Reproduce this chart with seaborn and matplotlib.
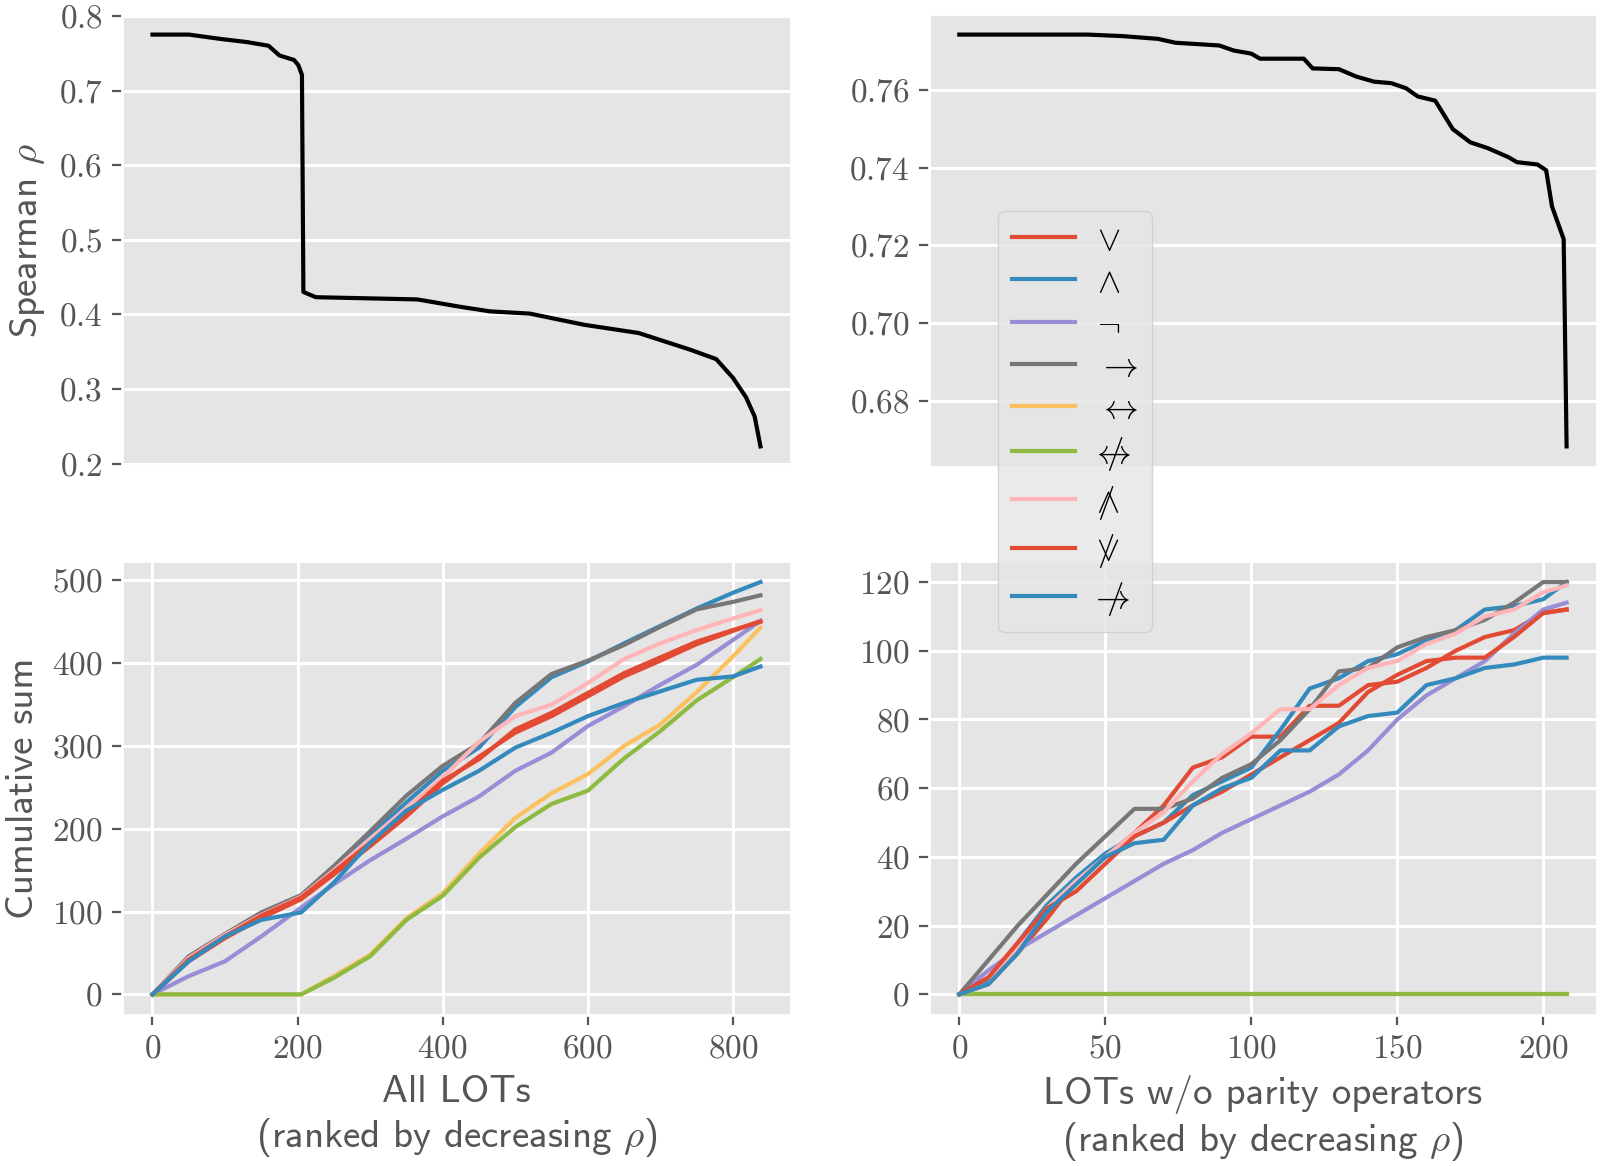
import numpy as np
import pandas as pd
import seaborn as sns
import matplotlib.pyplot as plt
from matplotlib.ticker import MultipleLocator

# spearman rho of the LOTs, ranked
rank_all = [0, 50, 95, 130, 160, 175, 195, 201, 206, 208, 225, 365, 425, 465, 520,
            595, 670, 705, 740, 777, 800, 818, 830, 838]
rho_all = [0.775, 0.775, 0.769, 0.765, 0.760, 0.747, 0.741, 0.734, 0.721, 0.430, 0.423,
           0.420, 0.410, 0.404, 0.401, 0.386, 0.375, 0.364, 0.353, 0.340, 0.315, 0.289,
           0.263, 0.223]

rank_np = [0, 44, 56, 68, 74, 89, 94, 100, 103, 118, 121, 130, 136, 142, 148, 153, 157,
           163, 169, 175, 181, 188, 191, 198, 201, 203, 207, 208]
rho_np = [0.7742, 0.7742, 0.7738, 0.7731, 0.7721, 0.7714, 0.7701, 0.7693, 0.768, 0.768,
          0.7655, 0.7653, 0.7634, 0.7621, 0.7617, 0.7604, 0.7583, 0.7572, 0.7499, 0.7465,
          0.7450, 0.7427, 0.7414, 0.7408, 0.7393, 0.7300, 0.7216, 0.6683]

# operators (legend labels) and colours
ops = [r'$\vee$', r'$\wedge$', r'$\neg$', r'$\rightarrow$', r'$\leftrightarrow$',
       r'$/\hspace{-1.15}\leftrightarrow$', r'$/\hspace{-0.8}\wedge$',
       r'$/\hspace{-0.8}\vee$', r'$/\hspace{-1.15}\rightarrow$']
colors = ['#E24A33', '#348ABD', '#988ED5', '#777777', '#FBC15E', '#8EBA42', '#FFB5B8',
          '#E24A33', '#348ABD']

# cumulative sums, all LOTs
cum_rank_all = [0, 50, 100, 150, 205, 250, 300, 350, 400, 450, 500, 550, 600, 650, 700,
                750, 800, 838]
or_all = [0, 40, 68, 92, 115, 145, 179, 215, 255, 287, 316, 336, 360, 384, 403, 423, 439, 451]
and_all = [0, 42, 72, 98, 118, 152, 192, 232, 270, 298, 347, 383, 402, 424, 445, 466, 485, 498]
not_all = [0, 22, 40, 70, 105, 133, 162, 188, 215, 239, 270, 292, 324, 348, 374, 398, 428, 451]
impl_all = [0, 46, 73, 99, 120, 155, 197, 240, 276, 303, 352, 387, 403, 422, 444, 465, 474, 482]
iff_all = [0, 0, 0, 0, 0, 22, 48, 92, 122, 170, 213, 243, 266, 300, 326, 365, 408, 443]
xor_all = [0, 0, 0, 0, 0, 20, 46, 90, 119, 165, 202, 230, 246, 285, 318, 355, 383, 405]
nand_all = [0, 44, 72, 96, 118, 150, 188, 225, 262, 305, 336, 350, 376, 405, 424, 440, 454, 464]
nor_all = [0, 42, 70, 95, 117, 148, 183, 218, 258, 284, 320, 340, 364, 388, 407, 426, 440, 450]
nimpl_all = [0, 40, 70, 90, 99, 135, 183, 222, 247, 270, 298, 316, 336, 352, 366, 380, 384, 396]

# cumulative sums, LOTs without parity operators
cum_rank_np = [0, 10, 20, 30, 40, 50, 60, 70, 80, 90, 100, 110, 120, 130, 140, 150, 160,
               170, 180, 190, 200, 208]
or_np = [0, 3, 12, 22, 33, 40, 47, 55, 66, 69, 75, 75, 84, 84, 90, 91, 95, 100, 104, 106, 111, 112]
and_np = [0, 4, 15, 26, 34, 41, 46, 50, 58, 62, 66, 77, 89, 92, 97, 99, 103, 106, 112, 113, 115, 120]
not_np = [0, 7, 13, 18, 23, 28, 33, 38, 42, 47, 51, 55, 59, 64, 71, 80, 87, 92, 97, 105, 112, 114]
impl_np = [0, 10, 20, 29, 38, 46, 54, 54, 57, 63, 67, 74, 83, 94, 95, 101, 104, 106, 109, 114, 120, 120]
iff_np = [0] * 22
xor_np = [0] * 22
nand_np = [0, 3, 14, 25, 33, 40, 47, 53, 62, 70, 76, 83, 83, 90, 95, 97, 102, 105, 110, 112, 117, 119]
nor_np = [0, 5, 15, 25, 30, 38, 46, 50, 55, 59, 64, 69, 74, 79, 88, 93, 97, 98, 98, 104, 111, 112]
nimpl_np = [0, 3, 12, 24, 32, 40, 44, 45, 55, 60, 63, 71, 71, 78, 81, 82, 90, 92, 95, 96, 98, 98]

series_all = [or_all, and_all, not_all, impl_all, iff_all, xor_all, nand_all, nor_all, nimpl_all]
series_np = [or_np, and_np, not_np, impl_np, iff_np, xor_np, nand_np, nor_np, nimpl_np]


def long_df(ranks, series):
    frames = []
    for op, vals in zip(ops, series):
        frames.append(pd.DataFrame({'rank': ranks, 'cum': vals, 'op': op}))
    return pd.concat(frames, ignore_index=True)


df_all = long_df(cum_rank_all, series_all)
df_np = long_df(cum_rank_np, series_np)

plt.style.use('ggplot')
plt.rcParams['font.family'] = 'serif'
plt.rcParams['font.serif'] = ['cmr10']
plt.rcParams['mathtext.fontset'] = 'cm'
plt.rcParams['axes.unicode_minus'] = False
plt.rcParams['axes.formatter.use_mathtext'] = True

fig = plt.figure(figsize=(8, 5.83), dpi=200)
ax_tl = fig.add_axes([0.0763, 0.5995, 0.418, 0.3885])
ax_tr = fig.add_axes([0.5806, 0.5995, 0.4175, 0.3885])
ax_bl = fig.add_axes([0.0763, 0.1295, 0.418, 0.389])
ax_br = fig.add_axes([0.5806, 0.1295, 0.4175, 0.389])

palette = dict(zip(ops, colors))
lw = 1.5

sns.lineplot(x=rank_all, y=rho_all, color='black', lw=lw, ax=ax_tl)
sns.lineplot(x=rank_np, y=rho_np, color='black', lw=lw, ax=ax_tr)
sns.lineplot(data=df_all, x='rank', y='cum', hue='op', hue_order=ops, palette=palette,
             estimator=None, lw=lw, legend=False, ax=ax_bl)
sns.lineplot(data=df_np, x='rank', y='cum', hue='op', hue_order=ops, palette=palette,
             estimator=None, lw=lw, legend=False, ax=ax_br)

for ax in (ax_tl, ax_tr):
    ax.set_xticks([])
    ax.set_xlabel('')

ax_tl.yaxis.set_major_locator(MultipleLocator(0.1))
ax_br.yaxis.set_major_locator(MultipleLocator(20))
ax_bl.yaxis.set_major_locator(MultipleLocator(100))

for ax in (ax_tl, ax_tr, ax_bl, ax_br):
    ax.tick_params(labelsize=12, colors='#555555')
    ax.grid(color='white', lw=1.1)
    ax.set_ylabel('')

lab = dict(fontsize=14, family='cmss10', color='#555555')
ax_tl.set_ylabel(r'Spearman $\rho$', **lab)
ax_bl.set_ylabel('Cumulative sum', **lab)
ax_bl.set_xlabel('All LOTs\n' + r'(ranked by decreasing $\rho$)', **lab)
ax_br.set_xlabel('LOTs w/o parity operators\n' + r'(ranked by decreasing $\rho$)', **lab)

handles = ax_br.get_lines()[:len(ops)]
fig.legend(handles, ops, loc='upper left', bbox_to_anchor=(0.624, 0.819),
           borderaxespad=0, fontsize=12.5, labelspacing=0.3, handlelength=1.8,
           handletextpad=0.65, borderpad=0.4, frameon=True)

fig.savefig('out.png', dpi=200)
